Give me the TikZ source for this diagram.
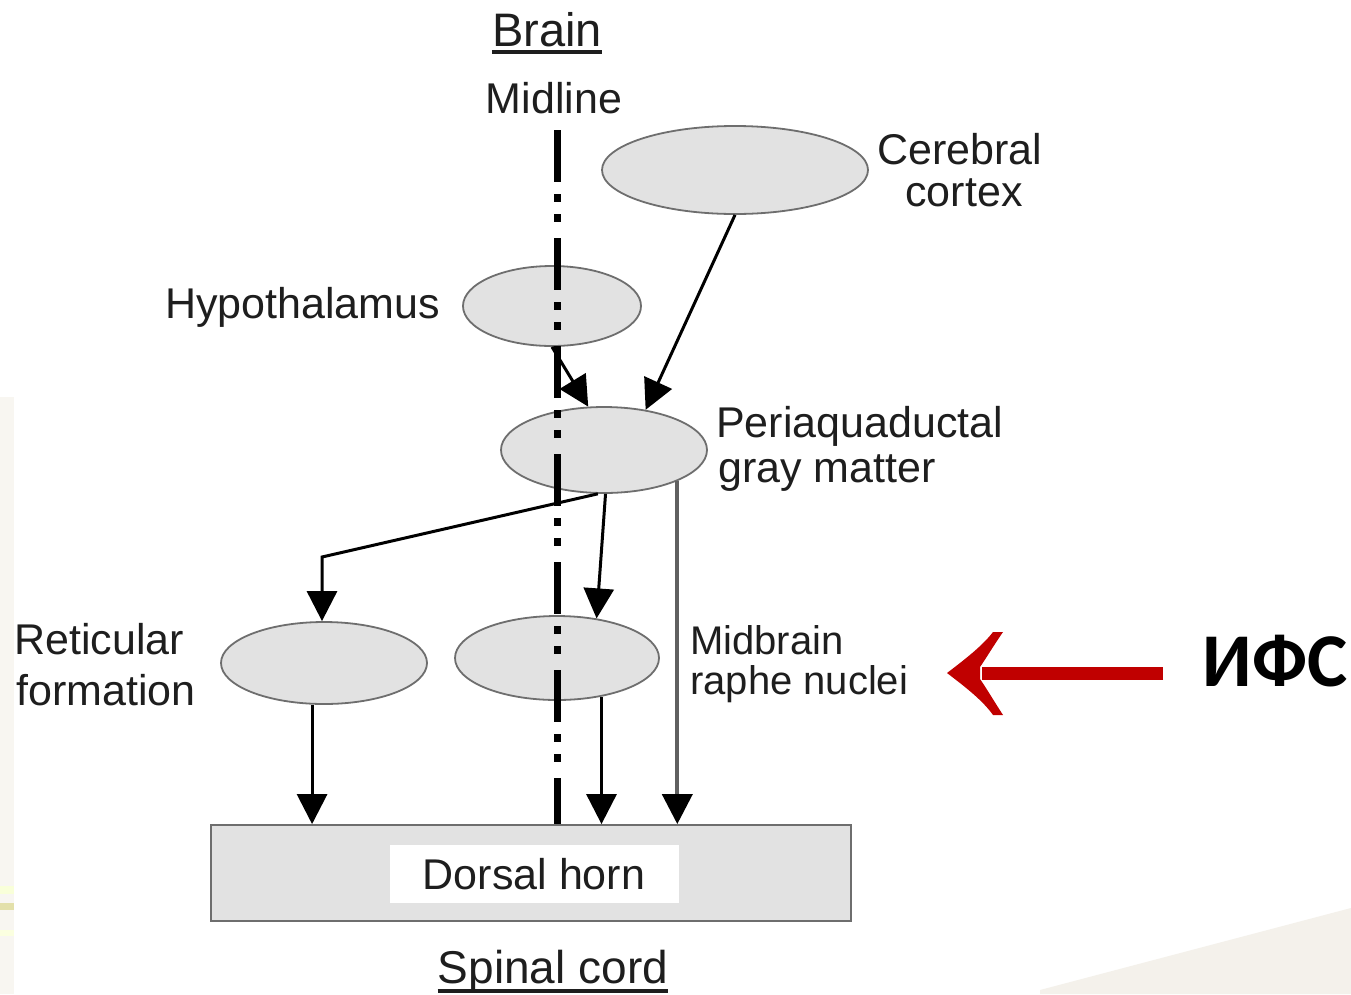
\documentclass[tikz,border=0pt]{standalone}
\usepackage{fontspec}
\setmainfont{Liberation Sans}
\newfontfamily\ifsfont{Carlito}
\usetikzlibrary{shapes.geometric,arrows.meta}
\definecolor{txt}{HTML}{1E1E1E}
\definecolor{edge}{HTML}{6E6E6E}
\definecolor{blobfill}{HTML}{E2E2E2}
\definecolor{ifsred}{HTML}{C00000}
\definecolor{slidebg}{HTML}{F0EDE4}
\begin{document}
\begin{tikzpicture}[x=1pt,y=-1pt,
  blob/.style={ellipse, draw=edge, fill=blobfill, line width=1.8pt, inner sep=0pt},
  lbl/.style={inner sep=0pt, text=txt, font=\fontsize{43}{42}\selectfont},
  conn/.style={line width=3pt, draw=black, -{Triangle[length=30pt,width=30pt]}},
  grayconn/.style={line width=4pt, draw=gray!75!black, -{Triangle[length=30pt,width=30pt,black]}},
  midline/.style={line width=7pt, draw=black, dash pattern=on 52pt off 12pt on 8pt off 12pt on 8pt off 16pt}
]
\useasboundingbox (0,0) rectangle (1351,994);
% slide background
\fill[white] (0,0) rectangle (1351,994);
\fill[slidebg!50] (0,397) rectangle (14,994);
\fill[green!15!yellow!15] (0,886) rectangle (14,894);
\fill[olive!25] (0,903) rectangle (14,910);
\fill[green!12!yellow!12] (0,930) rectangle (14,936);
\fill[slidebg!75] (1040,994) -- (1040,990) -- (1351,908) -- (1351,994) -- cycle;

% ellipses
\node[blob, minimum width=266pt, minimum height=88pt] (cc) at (735,170) {};
\node[blob, minimum width=178pt, minimum height=80pt] (hyp) at (552,306) {};
\node[blob, minimum width=206pt, minimum height=86pt] (pag) at (604,450) {};
\node[blob, minimum width=206pt, minimum height=82pt] (ret) at (324,663) {};
\node[blob, minimum width=204pt, minimum height=84pt] (rap) at (557,658) {};

% dorsal horn
\node[draw=edge, fill=blobfill, line width=1.8pt, minimum width=640pt, minimum height=96pt, inner sep=0pt] (dh) at (531,873) {};
\node[fill=white, minimum width=289pt, minimum height=58pt, inner sep=0pt, text=txt, font=\fontsize{43}{42}\selectfont] (dhl) at (534,874) {Dorsal horn};

% labels
\node[lbl, anchor=base, font=\fontsize{47}{47}\selectfont] (brain) at (547,46) {Brain};
\draw[line width=3.5pt, txt] ([yshift=-6pt]brain.base west) -- ([yshift=-6pt]brain.base east);
\node[lbl, anchor=base] (mid) at (554,113) {Midline};
\node[lbl, anchor=base, align=center, font=\fontsize{43}{42}\selectfont] (cclab) at (960,206) {Cerebral\\\hspace*{8pt}cortex};
\node[lbl, anchor=base west] (hyplab) at (165,318) {Hypothalamus};
\node[lbl, anchor=base west, align=left, font=\fontsize{43}{45}\selectfont] (paglab) at (716,482) {Periaquaductal\\\hspace*{2pt}gray matter};
\node[lbl, anchor=base west, align=left, font=\fontsize{43}{51}\selectfont] (retlab) at (14,705) {Reticular\\\hspace*{2pt}formation};
\node[lbl, anchor=base west, align=left, font=\fontsize{40}{40}\selectfont] (raplab) at (690,694) {Midbrain\\raphe nuclei};
\node[lbl, anchor=base, font=\fontsize{46}{46}\selectfont] (sc) at (553,983) {Spinal cord};
\draw[line width=3.5pt, txt] ([yshift=-8pt]sc.base west) -- ([yshift=-8pt]sc.base east);

% connectors
\draw[conn] (hyp.south) -- (pag.110);
\draw[conn] (cc.south) -- (pag.44);
\coordinate (bend) at (322,557);
\draw[conn] (pag.262) -- (bend) -- (bend |- ret.north);
\draw[conn] (pag.272) -- (rap.45);
\draw[grayconn] (pag.-23) -- (pag.-23 |- dh.north);
\draw[conn] (ret.254) -- (ret.254 |- dh.north);
\draw[conn] (rap.-41) -- (rap.-41 |- dh.north);

% midline
\coordinate (mtop) at (557,130);
\draw[midline] (mtop) -- (mtop |- dh.north);

% red arrow
\coordinate (rs) at (1163,673);
\coordinate (re) at (982,673);
\draw[ifsred, line width=13pt] (rs) -- (re);
\fill[ifsred] (947,673) .. controls (968,657) and (983,645) .. (993,632) -- (1003,632)
  .. controls (992,648) and (985,660) .. (980,667) -- (980,679)
  .. controls (985,686) and (992,698) .. (1003,715) -- (993,715)
  .. controls (983,701) and (968,689) .. (947,673) -- cycle;
\node[inner sep=0pt, anchor=base, font=\ifsfont\bfseries\fontsize{76}{76}\selectfont] (ifs) at (1275,686) {ИФС};
\end{tikzpicture}
\end{document}
